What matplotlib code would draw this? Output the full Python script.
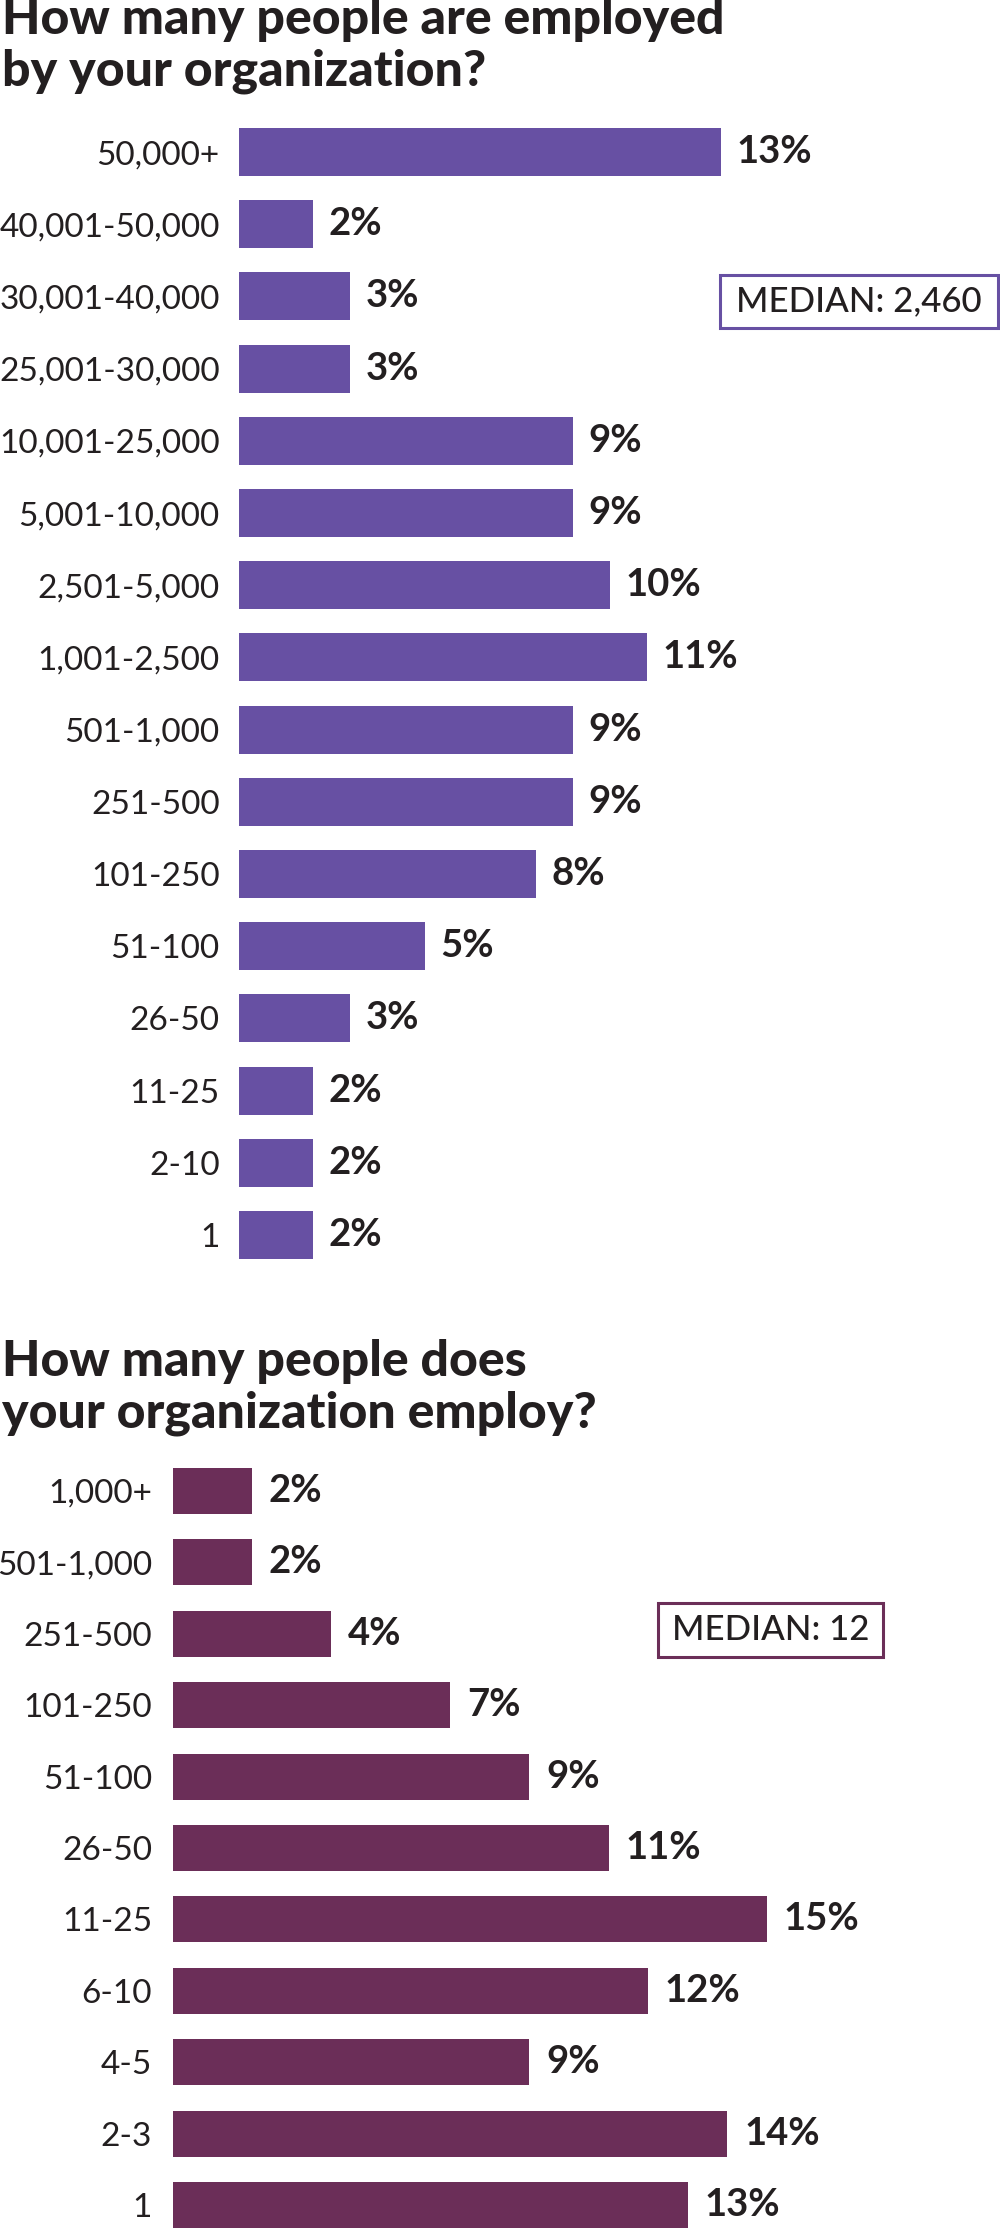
import matplotlib.pyplot as plt
from matplotlib.patches import Rectangle

# data
orgSizes = ["50,000+", "40,001-50,000", "30,001-40,000", "25,001-30,000", "10,001-25,000",
            "5,001-10,000", "2,501-5,000", "1,001-2,500", "501-1,000", "251-500",
            "101-250", "51-100", "26-50", "11-25", "2-10", "1"]
orgShares = [13, 2, 3, 3, 9, 9, 10, 11, 9, 9, 8, 5, 3, 2, 2, 2]
orgMedian = "MEDIAN: 2,460"

smallSizes = ["1,000+", "501-1,000", "251-500", "101-250", "51-100", "26-50",
              "11-25", "6-10", "4-5", "2-3", "1"]
smallShares = [2, 2, 4, 7, 9, 11, 15, 12, 9, 14, 13]
smallMedian = "MEDIAN: 12"

W, H = 1000, 2229
TXT = "#231F20"
PURPLE = "#6750A3"
PLUM = "#6B2E58"

plt.rcParams["font.family"] = ["Lato", "DejaVu Sans"]

fig = plt.figure(figsize=(W / 100, H / 100), dpi=100)


def px(x0, y0, x1, y1):
    # pixel box (top-left origin) -> figure fraction rect
    return [x0 / W, 1 - y1 / H, (x1 - x0) / W, (y1 - y0) / H]


def drawBars(rect, labels, values, color, pxPerPct, barFrac, labelPad):
    ax = fig.add_axes(rect)
    n = len(labels)
    ypos = list(range(n))
    ax.barh(ypos, values, height=barFrac, color=color)
    ax.set_ylim(n - 0.5, -0.5)
    ax.set_xlim(0, rect[2] * W / pxPerPct)
    ax.set_yticks(ypos)
    ax.set_yticklabels(labels, fontsize=24, color=TXT)
    ax.tick_params(axis="y", length=0, pad=labelPad)
    ax.set_xticks([])
    for s in ax.spines.values():
        s.set_visible(False)
    for y, v in zip(ypos, values):
        ax.text(v + 0.42, y, f"{v}%", va="center", ha="left", fontsize=27.5,
                fontweight="bold", color=TXT)
    return ax


def medianBox(x0, y0, x1, y1, text, color):
    fig.patches.append(Rectangle((x0 / W, 1 - y1 / H), (x1 - x0) / W, (y1 - y0) / H,
                                 transform=fig.transFigure, fill=False,
                                 edgecolor=color, linewidth=2.2))
    fig.text((x0 + x1) / 2 / W, 1 - (y0 + y1) / 2 / H, text, ha="center", va="center",
             fontsize=25, fontweight="medium", color=TXT)


# top chart
fig.text(0.002, 1 - 34 / H, "How many people are employed", fontsize=36,
         fontweight="black", color=TXT, va="baseline")
fig.text(0.002, 1 - 85 / H, "by your organization?", fontsize=36,
         fontweight="black", color=TXT, va="baseline")
drawBars(px(239, 116, 1000, 1271), orgSizes, orgShares, PURPLE, 37.1, 0.665, 14)
medianBox(720, 275, 998, 328, orgMedian, PURPLE)

# bottom chart
fig.text(0.002, 1 - 1376 / H, "How many people does", fontsize=36,
         fontweight="black", color=TXT, va="baseline")
fig.text(0.002, 1 - 1428 / H, "your organization employ?", fontsize=36,
         fontweight="black", color=TXT, va="baseline")
drawBars(px(173, 1455, 1000, 2241), smallSizes, smallShares, PLUM, 39.6, 0.645, 15)
medianBox(658, 1603, 883, 1657, smallMedian, PLUM)

fig.savefig("out.png", dpi=100)
